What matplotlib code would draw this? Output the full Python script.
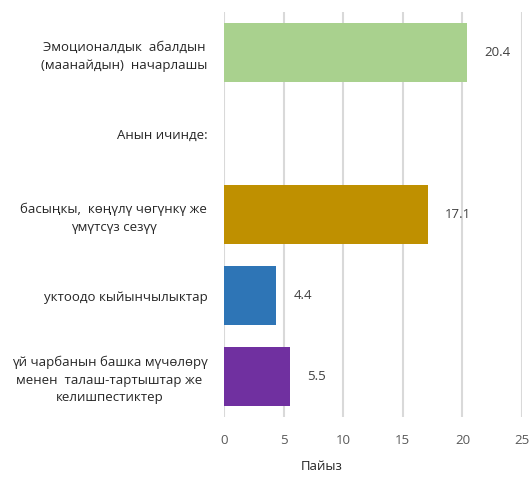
import matplotlib
matplotlib.use("Agg")
import matplotlib.pyplot as plt
import numpy as np

plt.rcParams['font.family'] = ['Open Sans', 'Noto Sans', 'DejaVu Sans']

categories = [
    "Эмоционалдык  абалдын\n(маанайдын)  начарлашы",
    "Анын ичинде:",
    "басыңкы,  көңүлү чөгүнкү же\nүмүтсүз сезүү",
    "уктоодо кыйынчылыктар",
    "үй чарбанын башка мүчөлөрү\nменен  талаш-тартыштар же\nкелишпестиктер",
]
values = [20.4, None, 17.1, 4.4, 5.5]
colors = ["#A9D18E", None, "#BF9000", "#2E75B6", "#7030A0"]
xticks = [0, 5, 10, 15, 20, 25]
xlabel = "Пайыз"

fig = plt.figure(figsize=(5.31, 4.82), dpi=100)
ax = fig.add_axes([224/531, 1-417/482, (522-224)/531, (417-12)/482])

y = np.arange(len(categories))
for i, (v, c) in enumerate(zip(values, colors)):
    if v is None:
        continue
    ax.barh(i, v, height=0.74, color=c, zorder=3)
    ax.annotate(f"{v}", (v, i), xytext=(12.5, 0), textcoords="offset points",
                va="center", ha="left", fontsize=9.5, color="#404040")

ax.set_ylim(len(categories)-0.5, -0.5)
ax.set_xlim(0, 25)
ax.set_xticks(xticks)
ax.set_xticklabels([str(t) for t in xticks], fontsize=9.5, color="#595959")
ax.set_yticks(y)
ax.set_yticklabels(categories, fontsize=9.5, color="#262626",
                   multialignment="center", linespacing=1.45)
ax.tick_params(axis='y', length=0, pad=12)
ax.tick_params(axis='x', length=0, pad=12)
ax.grid(axis='x', color="#D9D9D9", linewidth=1.5, zorder=0)
for s in ax.spines.values():
    s.set_visible(False)

fig.text(322/531, 1-467/482, xlabel, ha="center", va="center", fontsize=9.5, color="#262626")

fig.savefig("out.png", dpi=100)
